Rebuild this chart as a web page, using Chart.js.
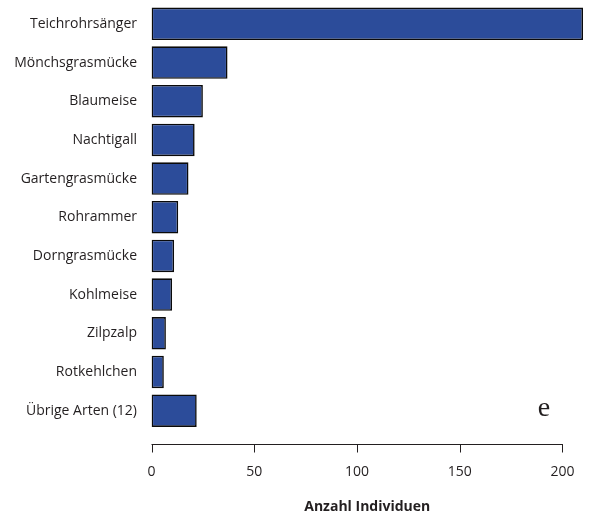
<!DOCTYPE html>
<html>
<head>
<meta charset="utf-8">
<script src="https://cdn.jsdelivr.net/npm/chart.js@4/dist/chart.umd.min.js"></script>
<style>
  html, body { margin: 0; padding: 0; background: #fff; }
  #wrap { width: 591px; height: 516px; position: relative; }
</style>
</head>
<body>
<div id="wrap"><canvas id="c"></canvas></div>
<script>
// Bird species and number of individuals counted
const species = [
  'Teichrohrsänger', 'Mönchsgrasmücke', 'Blaumeise', 'Nachtigall',
  'Gartengrasmücke', 'Rohrammer', 'Dorngrasmücke', 'Kohlmeise',
  'Zilpzalp', 'Rotkehlchen', 'Übrige Arten (12)'
];
const individuals = [210, 37, 25, 21, 18, 13, 11, 10, 7, 6, 22];
const xTicks = [0, 50, 100, 150, 200];
const axisTitle = 'Anzahl Individuen';
const panelLetter = 'e';

const textColor = '#231f20';
const labelFont = '"Open Sans", "Noto Sans", sans-serif';

// Bottom axis drawn as a detached line spanning the tick range
const detachedAxis = {
  id: 'detachedAxis',
  afterDraw(chart) {
    const x = chart.scales.x;
    const ctx = chart.ctx;
    const y0 = Math.round(chart.chartArea.bottom + 13.5) + 0.5;
    ctx.save();
    ctx.strokeStyle = '#231f20';
    ctx.lineWidth = 1;
    ctx.beginPath();
    ctx.moveTo(x.getPixelForValue(xTicks[0]), y0);
    ctx.lineTo(x.getPixelForValue(xTicks[xTicks.length - 1]) + 0.5, y0);
    xTicks.forEach(v => {
      const px = Math.round(x.getPixelForValue(v)) + 0.5;
      ctx.moveTo(px, y0);
      ctx.lineTo(px, y0 + 8);
    });
    ctx.stroke();
    // panel letter
    ctx.fillStyle = textColor;
    ctx.font = '28px "Liberation Serif", "DejaVu Serif", serif';
    ctx.textAlign = 'center';
    ctx.textBaseline = 'alphabetic';
    ctx.fillText(panelLetter, x.getPixelForValue(191), chart.scales.y.getPixelForValue(10) + 5.5);
    ctx.restore();
  }
};

new Chart(document.getElementById('c'), {
  type: 'bar',
  data: {
    labels: species,
    datasets: [{
      data: individuals,
      backgroundColor: '#2c4c9a',
      borderColor: '#0a0a0a',
      borderWidth: 1.6,
      borderSkipped: false,
      barPercentage: 0.84,
      categoryPercentage: 1.0
    }]
  },
  options: {
    indexAxis: 'y',
    responsive: true,
    maintainAspectRatio: false,
    animation: false,
    layout: { padding: { top: 4.5, right: 8, bottom: 0, left: 0 } },
    plugins: {
      legend: { display: false },
      tooltip: { enabled: false }
    },
    scales: {
      x: {
        type: 'linear',
        min: 0,
        max: 210,
        grid: { display: false, drawTicks: false },
        border: { display: false },
        ticks: {
          stepSize: 50,
          includeBounds: false,
          padding: 34,
          color: textColor,
          font: { family: labelFont, size: 14 }
        },
        title: {
          display: true,
          text: axisTitle,
          color: textColor,
          font: { family: labelFont, size: 14, weight: 'bold' },
          padding: { top: 0, bottom: 1 }
        },
        afterFit(s) {
          s.height = 86;
          s.paddingLeft = 0;
          s.paddingRight = 0;
        }
      },
      y: {
        grid: { display: false, drawTicks: false },
        border: { display: false },
        ticks: {
          padding: 14.5,
          color: textColor,
          font: { family: labelFont, size: 14 }
        },
        afterFit(s) {
          s.width = 151.5;
          s.paddingTop = 0;
          s.paddingBottom = 0;
        }
      }
    }
  },
  plugins: [detachedAxis]
});
</script>
</body>
</html>
